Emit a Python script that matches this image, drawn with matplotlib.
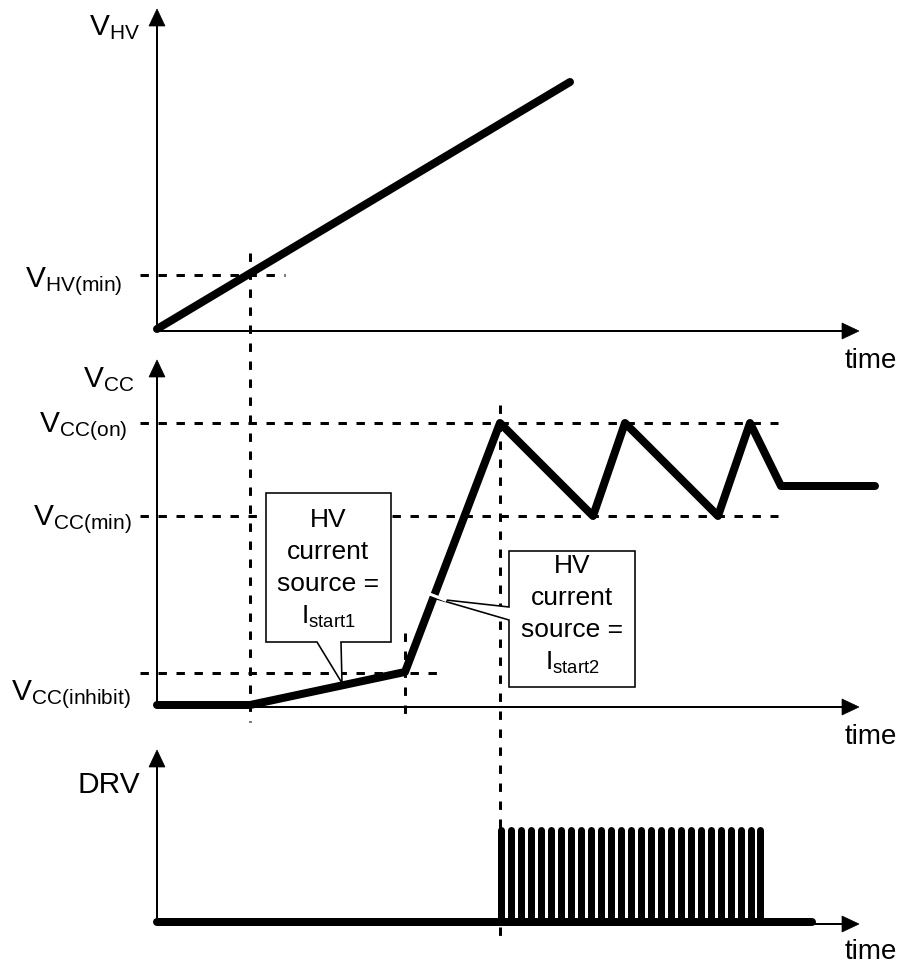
import matplotlib
matplotlib.use("Agg")
import matplotlib.pyplot as plt
from matplotlib.patches import Polygon

plt.rcParams['font.family'] = ['Liberation Sans', 'DejaVu Sans']
plt.rcParams['mathtext.fontset'] = 'custom'
plt.rcParams['mathtext.rm'] = 'Liberation Sans'
plt.rcParams['mathtext.it'] = 'Liberation Sans:italic'
plt.rcParams['mathtext.bf'] = 'Liberation Sans:bold'

# ---------------- data (diagram units: x = time, y = level) ----------------
origin_x = 157
axis_end_x = 859
panel_base_y = [329, 705, 922]          # baseline of each panel
panel_top_y = [9, 360, 750]             # arrow tip of each y axis

vhv_t = [157, 570]
vhv_v = [329, 82]

vcc_t = [157, 250, 405, 500, 593, 625, 718, 750, 781, 875]
vcc_v = [705, 705, 672, 423, 516, 423, 516, 423, 486, 486]

drv_low_t = [157, 812]
drv_low_v = [922, 922]
drv_high_v = 830
drv_pulse_t = [501, 511, 521, 531, 541, 551, 561, 571, 581, 591, 601, 611, 621,
               631, 641, 651, 661, 671, 681, 691, 701, 711, 721, 731, 741, 751, 760]

level_hv_min = 275
level_cc_on = 423
level_cc_min = 516
level_cc_inhibit = 673

# ---------------- figure ----------------
fig = plt.figure(figsize=(9.07, 9.65), dpi=100)
ax = fig.add_axes([0, 0, 1, 1])
ax.set_xlim(0, 907)
ax.set_ylim(965, 0)
ax.axis('off')

px = 72 / 100.0  # points per pixel
thick = 8 * px
axis_lw = 2 * px
dash_lw = 3 * px
dash_pat = (2.8, 3.2)

def hdash(y, x0, x1):
    ax.plot([x0, x1], [y, y], color='black', lw=dash_lw, dashes=dash_pat,
            solid_capstyle='butt', dash_capstyle='butt', zorder=1)

def vdash(x, y0, y1):
    ax.plot([x, x], [y0, y1], color='black', lw=dash_lw, dashes=dash_pat,
            dash_capstyle='butt', zorder=1)

# dashed reference lines
hdash(level_hv_min, 140, 285)
hdash(level_cc_on, 140, 778)
hdash(level_cc_min, 140, 778)
hdash(level_cc_inhibit, 140, 440)
vdash(250, 253, 722)
vdash(405, 633, 722)
vdash(500, 405, 942)

# axes with arrows
ah_len, ah_w = 17, 8
time_dy = [39, 39, 37]
for yb, yt, dy in zip(panel_base_y, panel_top_y, time_dy):
    ax.plot([origin_x, origin_x], [yb, yt + ah_len], color='black', lw=axis_lw, zorder=2)
    ax.add_patch(Polygon([[origin_x, yt], [origin_x - ah_w, yt + ah_len],
                          [origin_x + ah_w, yt + ah_len]], closed=True,
                         facecolor='black', edgecolor='black', lw=0.5, zorder=2))
    ax.plot([origin_x, axis_end_x - ah_len], [yb + 2, yb + 2], color='black', lw=axis_lw, zorder=2)
    ax.add_patch(Polygon([[axis_end_x, yb + 2], [axis_end_x - ah_len, yb + 2 - ah_w],
                          [axis_end_x - ah_len, yb + 2 + ah_w]], closed=True,
                         facecolor='black', edgecolor='black', lw=0.5, zorder=2))
    ax.text(845, yb + dy, 'time', fontsize=20, ha='left', va='baseline')

# waveforms
ax.plot(vhv_t, vhv_v, color='black', lw=thick, solid_capstyle='round',
        solid_joinstyle='round', zorder=4)
ax.plot(vcc_t, vcc_v, color='black', lw=thick, solid_capstyle='round',
        solid_joinstyle='round', zorder=4)
ax.plot(drv_low_t, drv_low_v, color='black', lw=thick, solid_capstyle='round', zorder=4)
for t in drv_pulse_t:
    ax.plot([t, t], [drv_low_v[0], drv_high_v], color='black', lw=7 * px,
            solid_capstyle='round', zorder=4)

# small white break in steep VCC segment
ax.plot([427, 445], [593, 600], color='white', lw=3 * px, zorder=5)

# callouts
box_lw = 1.6 * px
call1 = [[266, 493], [391, 493], [391, 642], [341, 642], [342, 683],
         [317, 642], [266, 642]]
call2 = [[509, 551], [635, 551], [635, 687], [509, 687], [509, 620],
         [437, 599], [509, 607]]
for pts in (call1, call2):
    ax.add_patch(Polygon(pts, closed=True, facecolor='white', edgecolor='black',
                         lw=box_lw, joinstyle='miter', zorder=3))

cfs = 19
for cx, ys, sub in ((328, [527, 559, 591, 624], 'start1'),
                    (572, [573, 605, 637, 670], 'start2')):
    ax.text(cx, ys[0], 'HV', fontsize=cfs, ha='center', va='baseline', zorder=6)
    ax.text(cx, ys[1], 'current', fontsize=cfs, ha='center', va='baseline', zorder=6)
    ax.text(cx, ys[2], 'source =', fontsize=cfs, ha='center', va='baseline', zorder=6)
    ax.text(cx, ys[3], r'$\mathrm{I_{%s}}$' % sub, fontsize=cfs, ha='center',
            va='baseline', zorder=6)

# axis labels
lfs = 21.5
ax.text(140, 35, r'$\mathrm{V_{HV}}$', fontsize=lfs, ha='right', va='baseline')
ax.text(123, 287, r'$\mathrm{V_{HV(min)}}$', fontsize=lfs, ha='right', va='baseline')
ax.text(134, 387, r'$\mathrm{V_{CC}}$', fontsize=lfs, ha='right', va='baseline')
ax.text(127, 432, r'$\mathrm{V_{CC(on)}}$', fontsize=lfs, ha='right', va='baseline')
ax.text(132, 525, r'$\mathrm{V_{CC(min)}}$', fontsize=lfs, ha='right', va='baseline')
ax.text(131, 700, r'$\mathrm{V_{CC(inhibit)}}$', fontsize=lfs, ha='right', va='baseline')
ax.text(140, 793, 'DRV', fontsize=lfs, ha='right', va='baseline')

fig.savefig('out.png', dpi=100)
